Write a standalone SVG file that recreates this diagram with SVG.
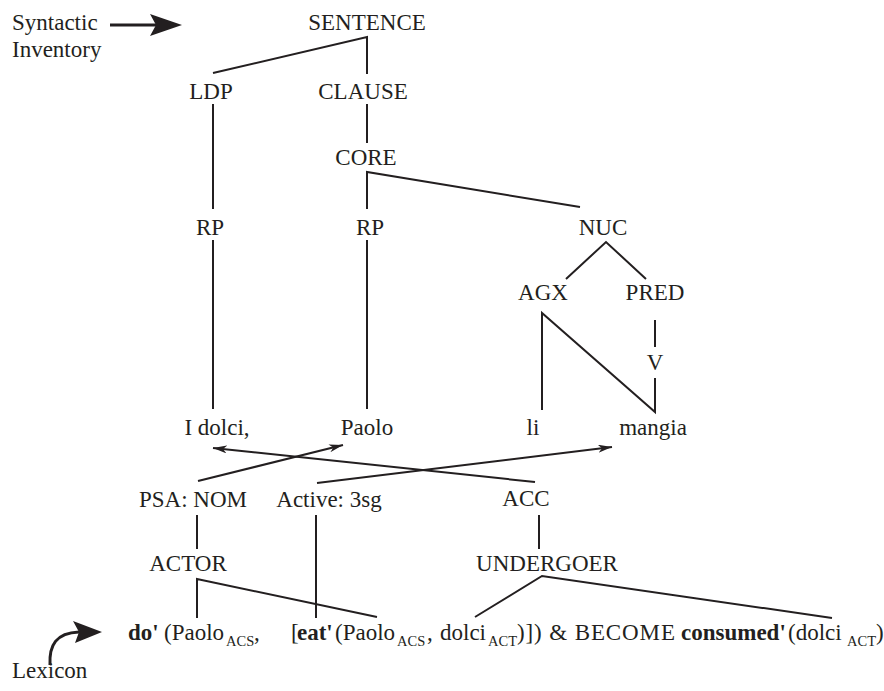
<svg xmlns="http://www.w3.org/2000/svg" width="884" height="691" viewBox="0 0 884 691" font-family="Liberation Serif, serif" font-size="23" fill="#231f20">
<defs>
<style>
text{font-family:"Liberation Serif",serif;font-size:23px;fill:#231f20}
.n text{text-anchor:middle}
.b{font-weight:bold}
.s{font-size:14.5px}
.l{fill:none;stroke:#231f20;stroke-width:2}
.t{fill:none;stroke:#231f20;stroke-width:3}
</style>
<marker id="ah" viewBox="0 0 14 8" refX="14" refY="4" markerWidth="14" markerHeight="8" markerUnits="userSpaceOnUse" orient="auto">
<path d="M0,0 L14,4 L0,8 L4,4 z" fill="#231f20"/>
</marker>
</defs>
<rect width="884" height="691" fill="#fff"/>

<g id="labels">
<text x="12" y="30">Syntactic</text>
<text x="12" y="57">Inventory</text>
<text x="12" y="678">Lexicon</text>
</g>

<g id="pointers">
<line class="t" x1="110" y1="25" x2="156" y2="25"/>
<polygon points="150,14 182,25 150,36 156,25" fill="#231f20"/>
<path class="t" d="M50,665 C49,645 56,633 79,632"/>
<polygon points="73,621 102,632 75,643 79,632" fill="#231f20"/>
</g>

<g class="n">
<g id="sentence"><text x="367" y="30">SENTENCE</text></g>
<g id="ldp"><text x="211" y="99">LDP</text></g>
<g id="clause"><text x="363" y="99">CLAUSE</text></g>
<g id="core"><text x="366" y="165">CORE</text></g>
<g id="rp1"><text x="210" y="235">RP</text></g>
<g id="rp2"><text x="370" y="235">RP</text></g>
<g id="nuc"><text x="603" y="235">NUC</text></g>
<g id="agx"><text x="543" y="300">AGX</text></g>
<g id="pred"><text x="655" y="300">PRED</text></g>
<g id="v"><text x="655" y="370">V</text></g>
<g id="idolci"><text x="217" y="435">I dolci,</text></g>
<g id="paolo"><text x="367" y="435">Paolo</text></g>
<g id="li"><text x="533" y="435">li</text></g>
<g id="mangia"><text x="653" y="435">mangia</text></g>
<g id="psanom"><text x="193" y="507">PSA: NOM</text></g>
<g id="active"><text x="329" y="507">Active: 3sg</text></g>
<g id="acc"><text x="526" y="506">ACC</text></g>
<g id="actor"><text x="188" y="571">ACTOR</text></g>
<g id="undergoer"><text x="547" y="571">UNDERGOER</text></g>
</g>

<g id="logical-structure">
<text class="b" x="128" y="640">do'</text>
<text x="164" y="640">(Paolo</text>
<text class="s" x="226" y="646">ACS</text>
<text x="254" y="640">,</text>
<text x="291" y="640">[</text>
<text class="b" x="297" y="640">eat'</text>
<text x="335" y="640">(Paolo</text>
<text class="s" x="397" y="646">ACS</text>
<text x="427" y="640">,</text>
<text x="440" y="640">dolci</text>
<text class="s" x="488" y="646">ACT</text>
<text x="517" y="640" textLength="158" lengthAdjust="spacing">)]) &amp; BECOME</text>
<text class="b" x="681" y="640">consumed'</text>
<text x="788" y="640">(dolci</text>
<text class="s" x="847" y="646">ACT</text>
<text x="876" y="640">)</text>
</g>

<g id="connectors">
<polyline class="l" points="213,73 367,37 367,74"/>
<line class="l" x1="213" y1="104" x2="213" y2="209"/>
<line class="l" x1="367" y1="104" x2="367" y2="143"/>
<polyline class="l" points="367,209 367,172 580,207"/>
<line class="l" x1="213" y1="240" x2="213" y2="409"/>
<line class="l" x1="367" y1="240" x2="367" y2="409"/>
<polyline class="l" points="566,279 606,242 646,279"/>
<polyline class="l" points="542,410 542,313 655,412 655,378"/>
<line class="l" x1="655" y1="320" x2="655" y2="347"/>
<line class="l" x1="198" y1="481" x2="343" y2="445" marker-end="url(#ah)"/>
<line class="l" x1="535" y1="482" x2="213" y2="448" marker-end="url(#ah)"/>
<line class="l" x1="317" y1="483" x2="612" y2="447" marker-end="url(#ah)"/>
<line class="l" x1="197" y1="515" x2="197" y2="549"/>
<line class="l" x1="316" y1="515" x2="316" y2="618"/>
<line class="l" x1="539" y1="515" x2="539" y2="549"/>
<polyline class="l" points="197,618 197,579 377,617"/>
<polyline class="l" points="475,617 542,576 832,618"/>
</g>
</svg>
